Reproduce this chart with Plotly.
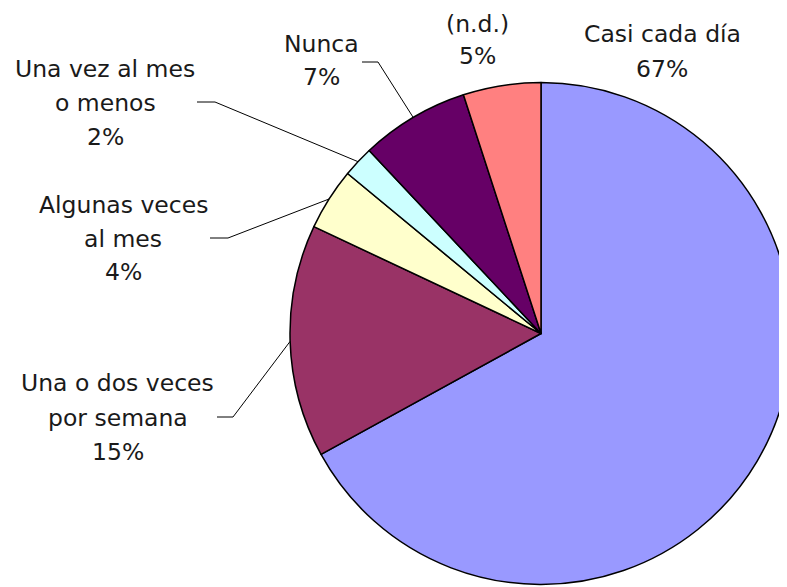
import math
import plotly.graph_objects as go

# ---- data ----
labels = ["Casi cada día", "Una o dos veces por semana", "Algunas veces al mes",
          "Una vez al mes o menos", "Nunca", "(n.d.)"]
label_lines = [["Casi cada día"], ["Una o dos veces", "por semana"],
               ["Algunas veces", "al mes"], ["Una vez al mes", "o menos"],
               ["Nunca"], ["(n.d.)"]]
values = [67, 15, 4, 2, 7, 5]
colors = ["#9999FF", "#993366", "#FFFFCC", "#CCFFFF", "#660066", "#FF8080"]

# ---- layout constants (window pixels) ----
W, H = 787, 587
OFF = 8  # page body margin
CX, CY, R = 541, 333.5, 251
label_pos = [(662, 34), (117.5, 383), (123, 205), (105, 69), (321, 44), (477, 24)]
line_gap = [35, 34.5, 33.5, 34, 33, 32]
leader = [None, (217, 233, 417), (210, 228, 238), (197, 215, 102), (362, 378, 62), None]
FONT = dict(family="DejaVu Sans", size=23.5, color="#1a1a1a")


def px(x):
    return (x - OFF) / W


def py(y):
    return 1 - (y - OFF) / H


fig = go.Figure(go.Pie(
    values=values, labels=labels, sort=False, direction="clockwise", rotation=0,
    marker=dict(colors=colors, line=dict(color="black", width=1.5)),
    textinfo="none", hoverinfo="label+percent", showlegend=False,
    domain=dict(x=[px(CX - R), px(CX + R)], y=[py(CY + R), py(CY - R)]),
))

total = sum(values)
annotations = []
shapes = []
cum = 0
for i, v in enumerate(values):
    pct = round(100 * v / total)
    lines = label_lines[i] + [f"{pct}%"]
    lx, ly = label_pos[i]
    for k, t in enumerate(lines):
        annotations.append(dict(
            x=px(lx), y=py(ly + k * line_gap[i]), xref="paper", yref="paper",
            text=t, showarrow=False, xanchor="center", yanchor="middle", font=FONT))
    theta = 2 * math.pi * (cum + v / 2) / total
    cum += v
    if leader[i] is not None:
        x0, x1, yl = leader[i]
        ex = CX + R * math.sin(theta)
        ey = CY - R * math.cos(theta)
        shapes.append(dict(
            type="path", xref="paper", yref="paper",
            path=f"M {px(x0)} {py(yl)} L {px(x1)} {py(yl)} L {px(ex)} {py(ey)}",
            line=dict(color="black", width=1)))

fig.update_layout(
    width=W, height=H, margin=dict(l=0, r=0, t=0, b=0),
    paper_bgcolor="white", plot_bgcolor="white",
    annotations=annotations, shapes=shapes,
)
fig.write_html("out.html")
